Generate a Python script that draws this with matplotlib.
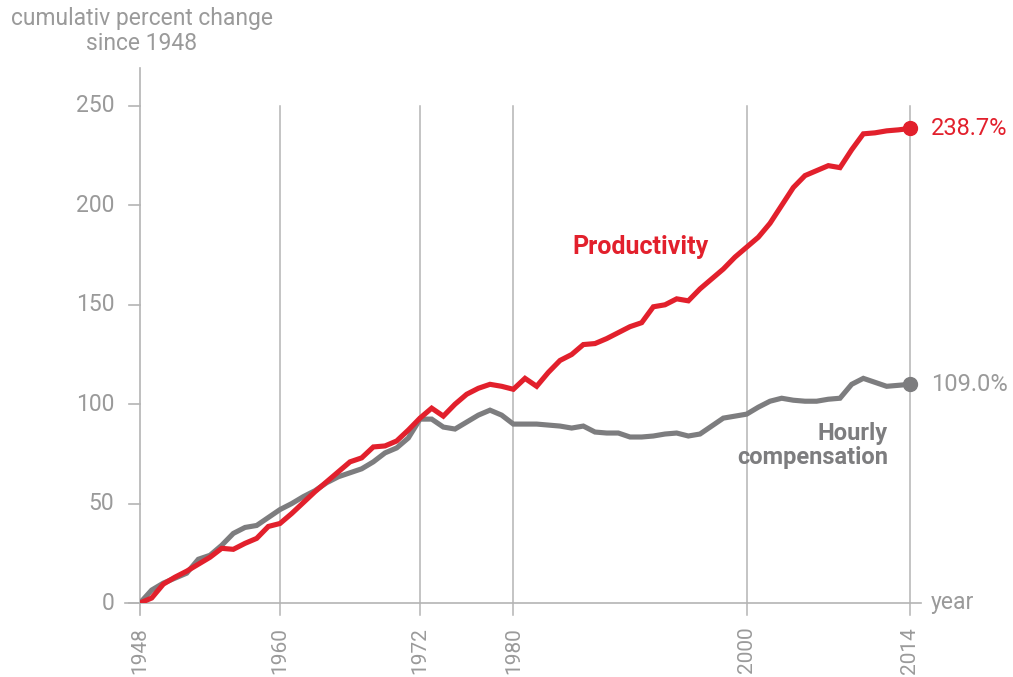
import matplotlib
matplotlib.use("Agg")
import matplotlib.pyplot as plt
import numpy as np

# ── data ─────────────────────────────────────────────────────────────────────
years = np.arange(1948, 2015)

productivity = [
    0, 2.5, 9.5, 13, 16, 19.5, 23, 27.5, 27, 30,            # 1948-57
    32.5, 38.5, 40, 45, 50.5, 56, 61, 66, 71, 73,           # 1958-67
    78.5, 79, 81.5, 87, 93, 98, 94, 100, 105, 108,          # 1968-77
    110, 109, 107.5, 113, 109, 116, 122, 125, 130, 130.5,   # 1978-87
    133, 136, 139, 141, 149, 150, 153, 152, 158, 163,       # 1988-97
    168, 174, 179, 184, 191, 200, 209, 215, 217.5, 220,     # 1998-2007
    219, 228, 236, 236.5, 237.5, 238, 238.7,                # 2008-14
]

compensation = [
    0, 6.5, 10, 12.5, 15, 22, 24, 29, 35, 38,               # 1948-57
    39, 43, 47, 50, 53.5, 56.5, 60.5, 63.5, 65.5, 67.5,     # 1958-67
    71, 75.5, 78, 83, 92.5, 92.5, 88.5, 87.5, 91, 94.5,     # 1968-77
    97, 94.5, 90, 90, 90, 89.5, 89, 88, 89, 86,             # 1978-87
    85.5, 85.5, 83.5, 83.5, 84, 85, 85.5, 84, 85, 89,       # 1988-97
    93, 94, 95, 98.5, 101.5, 103, 102, 101.5, 101.5, 102.5, # 1998-2007
    103, 110, 113, 111, 109, 109.5, 110,                    # 2008-14
]

grid_years = [1960, 1972, 1980, 2000, 2014]
xtick_years = [1948, 1960, 1972, 1980, 2000, 2014]
yticks = [0, 50, 100, 150, 200, 250]
end_labels = ["238.7%", "109.0%"]

RED = "#e2202c"
GRAY = "#7d7d7f"
TXT = "#9a9a9a"
AXC = "#b4b4b4"

plt.rcParams["font.family"] = ["Roboto", "DejaVu Sans"]

fig = plt.figure(figsize=(10.13, 6.77), dpi=100)
ax = fig.add_axes([140 / 1013, 74 / 677, 770 / 1013, 497 / 677])
ax.set_xlim(1948, 2014)
ax.set_ylim(0, 250)
ax.axis("off")

# axes drawn by hand so they can run past the data limits
ax.plot([1948, 1948], [-6, 269], color=AXC, lw=1.2, clip_on=False, zorder=1)
ax.plot([1946.7, 2014.9], [0, 0], color=AXC, lw=1.2, clip_on=False, zorder=1)
for yv in yticks:
    ax.plot([1947.1, 1948], [yv, yv], color=AXC, lw=1.2, clip_on=False)
    ax.text(1945.8, yv, str(yv), ha="right", va="center", fontsize=16.5, color=TXT)
for yr in grid_years:
    ax.plot([yr, yr], [-6, 250], color=AXC, lw=1.1, clip_on=False, zorder=1)
for yr in xtick_years:
    ax.text(yr, -12, str(yr), rotation=90, ha="center", va="top",
            fontsize=15, color=TXT)

ax.plot(years, compensation, color=GRAY, lw=3.7, zorder=3, solid_joinstyle="miter")
ax.plot(years, productivity, color=RED, lw=3.7, zorder=4, solid_joinstyle="miter")
ax.plot(years[-1], productivity[-1], "o", color=RED, ms=10, zorder=5, clip_on=False)
ax.plot(years[-1], compensation[-1], "o", color=GRAY, ms=10, zorder=5, clip_on=False)

ax.text(2015.8, productivity[-1], end_labels[0], ha="left", va="center",
        fontsize=17, color=RED)
ax.text(2015.8, compensation[-1], end_labels[1], ha="left", va="center",
        fontsize=17, color=TXT)
ax.text(2015.8, 0, "year", ha="left", va="center", fontsize=16.5, color=TXT)

ax.text(1990.9, 179, "Productivity", ha="center", va="center",
        fontsize=18, fontweight="bold", color=RED)
ax.text(2012.1, 79, "Hourly\ncompensation", ha="right", va="center",
        fontsize=17, fontweight="bold", color=GRAY, linespacing=1.05)

fig.text(142 / 1013, 1 - 31 / 677, "cumulativ percent change\nsince 1948",
         ha="center", va="center", fontsize=16.5, color=TXT, linespacing=1.1)

fig.savefig("out.png", dpi=100)
